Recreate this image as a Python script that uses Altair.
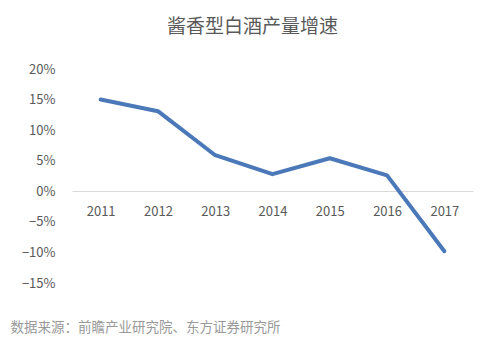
import altair as alt
import pandas as pd

years = ["2011", "2012", "2013", "2014", "2015", "2016", "2017"]
growth = [0.150, 0.131, 0.059, 0.028, 0.054, 0.026, -0.098]
title_text = "酱香型白酒产量增速"
source_text = "数据来源：前瞻产业研究院、东方证券研究所"
y_ticks = [0.20, 0.15, 0.10, 0.05, 0.0, -0.05, -0.10, -0.15]

df = pd.DataFrame({"year": years, "growth": growth})

font = "Noto Sans CJK SC"

chart = alt.Chart(df).mark_line(color="#4a78b8", strokeWidth=4, strokeCap="round", strokeJoin="round").encode(
    x=alt.X("year:O", sort=years,
            axis=alt.Axis(title=None, offset=-92, ticks=False, domainColor="#d9d9d9", domainWidth=1.2,
                          labelColor="#595959", labelFontSize=13, labelFont=font, labelPadding=14,
                          labelAngle=0)),
    y=alt.Y("growth:Q", scale=alt.Scale(domain=[-0.15, 0.20], nice=False),
            axis=alt.Axis(values=y_ticks, format=".0%", grid=False, ticks=False, domain=False,
                          labelColor="#595959", labelFontSize=13, labelFont=font, labelPadding=17,
                          title=source_text, titleAngle=0, titleX=-62, titleY=258, titleAlign="left",
                          titleBaseline="middle", titleColor="#999999", titleFontSize=13.5,
                          titleFont=font, titleFontWeight="normal")),
).properties(
    width=401, height=214,
    background="white",
    autosize=alt.AutoSizeParams(type="none"),
    padding={"left": 72, "top": 69, "right": 27, "bottom": 61},
    title=alt.TitleParams(text=title_text, anchor="middle", dx=-20, offset=26, fontSize=19,
                          font=font, fontWeight="normal", color="#595959"),
).configure_view(stroke=None, strokeWidth=0)

chart.save("out.html", embed_options={"renderer": "svg", "actions": False})
